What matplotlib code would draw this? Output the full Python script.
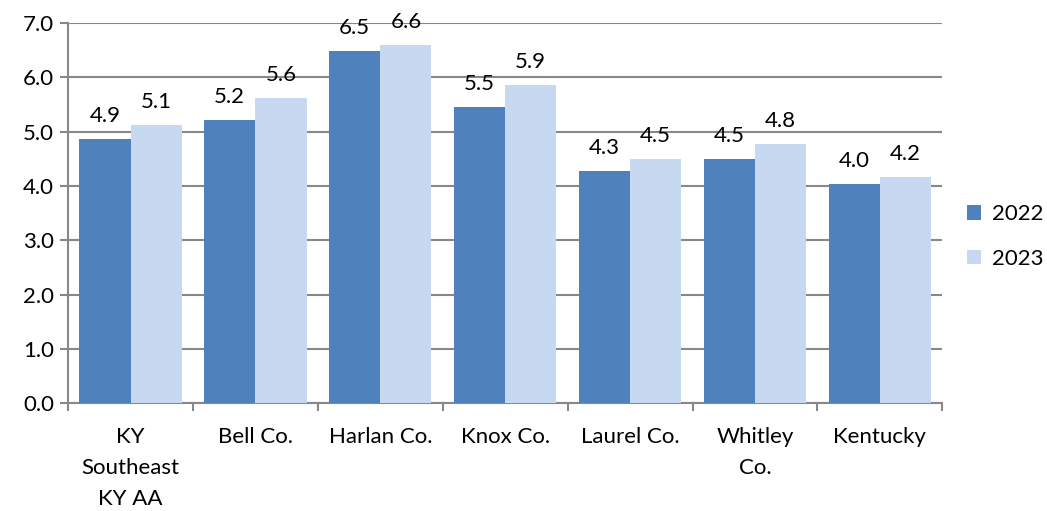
import numpy as np
import matplotlib.pyplot as plt

plt.rcParams['font.family'] = ['Lato', 'DejaVu Sans']

categories = ["KY\nSoutheast\nKY AA", "Bell Co.", "Harlan Co.", "Knox Co.",
              "Laurel Co.", "Whitley\nCo.", "Kentucky"]
v2022 = [4.86, 5.21, 6.49, 5.46, 4.27, 4.49, 4.04]
v2023 = [5.13, 5.62, 6.60, 5.86, 4.50, 4.78, 4.16]
yticks = [0, 1, 2, 3, 4, 5, 6, 7]

c22 = "#4F81BD"
c23 = "#C6D9F1"

fig = plt.figure(figsize=(10.47, 5.11), dpi=100)
ax = fig.add_axes([0.065, 0.211, 0.835, 0.744])

x = np.arange(len(categories))
w = 0.41
b1 = ax.bar(x - w/2, v2022, w, color=c22, label="2022", zorder=3)
b2 = ax.bar(x + w/2, v2023, w, color=c23, label="2023", zorder=3)

for bars, vals in [(b1, v2022), (b2, v2023)]:
    for r, v in zip(bars, vals):
        ax.text(r.get_x() + r.get_width()/2, v + 0.24, "%.1f" % v,
                ha="center", va="bottom", fontsize=16)

ax.set_xlim(-0.5, len(categories) - 0.5)
ax.set_ylim(0, 7)
ax.set_yticks(yticks)
ax.set_yticklabels(["%.1f" % t for t in yticks], fontsize=16)
ax.set_xticks(x)
ax.set_xticklabels(categories, fontsize=16, linespacing=1.7)
ax.set_xticks(np.arange(-0.5, len(categories)), minor=True)
ax.tick_params(axis="x", which="major", length=0, pad=17)
ax.tick_params(axis="x", which="minor", length=6, color="#888888", width=1.5)
ax.tick_params(axis="y", length=6, color="#888888", width=1.5, pad=4)

ax.grid(axis="y", color="#888888", linewidth=1.5, zorder=0)
for s in ["top", "right"]:
    ax.spines[s].set_visible(False)
for s in ["left", "bottom"]:
    ax.spines[s].set_color("#888888")
    ax.spines[s].set_linewidth(1.5)

fig.legend(loc="center left", bbox_to_anchor=(0.924, 0.537), frameon=False,
           fontsize=16, handlelength=0.6, handleheight=0.6, labelspacing=1.1,
           handletextpad=0.5, borderpad=0, borderaxespad=0)

fig.savefig("out.png", dpi=100)
